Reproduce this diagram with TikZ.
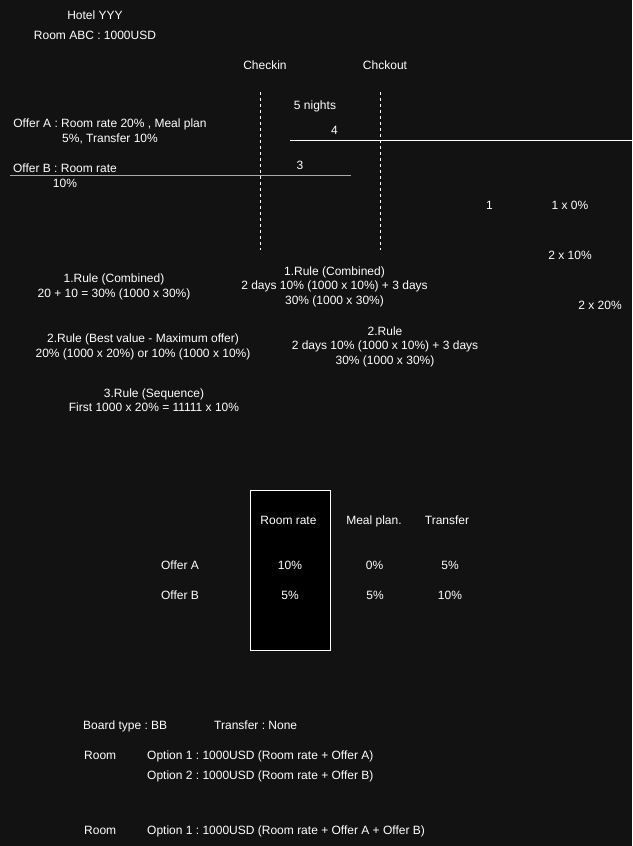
\documentclass[tikz,border=0pt]{standalone}
\usepackage{fontspec}
\setmainfont{Liberation Sans}
\usepackage{xcolor}
\usetikzlibrary{positioning}
\frenchspacing

\definecolor{bgdark}{RGB}{18,18,18}
\definecolor{linegray}{RGB}{170,170,170}

\begin{document}
\begin{tikzpicture}[x=1pt, y=-1pt,
    lbl/.style={text=white, font=\fontsize{12}{14.5}\selectfont, inner sep=0pt, anchor=base},
    lblc/.style={lbl, align=center},
    lbll/.style={lbl, anchor=base west},
    nightline/.style={white, line width=1pt, dash pattern=on 3pt off 3pt}]
  % Background
  \fill[bgdark] (0,0) rectangle (632,846);

  % Hotel and room
  \node[lbl] (hotel) at (95,19) {Hotel YYY};
  \node[lbl] (roomabc) at (95,39) {Room ABC : 1000USD};

  % Stay dates
  \node[lbl] (checkin) at (265,69) {Checkin};
  \node[lbl] (checkout) at (385,69) {Chckout};
  \node[lbl] (nights) at (315,109) {5 nights};

  % Offer periods
  \coordinate (offAstart) at (290,140);
  \coordinate (offAend) at (632,140);
  \coordinate (offBstart) at (10,175);
  \coordinate (offBend) at (351,175);
  \draw[white, line width=1pt] (offAstart) -- (offAend);
  \draw[linegray, line width=1pt] (offBstart) -- (offBend);
  \node[lbl] (nA) at (334.5,134) {4};
  \node[lbl] (nB) at (300,169) {3};
  % (base of a multi-line node = last line)
  \node[lblc] (offerA) at (110,142) {Offer A : Room rate 20\% , Meal plan\\5\%, Transfer 10\%};
  \node[lblc] (offerB) at (65,187) {Offer B : Room rate\\10\%};

  % Checkin / checkout markers
  \coordinate (ciTop) at (260.5,92);
  \coordinate (ciBot) at (260.5,250);
  \coordinate (coTop) at (380.5,92);
  \coordinate (coBot) at (380.5,250);
  \draw[nightline] (ciTop) -- (ciBot);
  \draw[nightline] (coTop) -- (coBot);

  % Nights after checkout
  \node[lbl] (one) at (489.5,209) {1};
  \node[lbl] (oneX) at (570,209) {1 x 0\%};
  \node[lbl] (twoX) at (570,259) {2 x 10\%};
  \node[lbl] (twoY) at (600,309) {2 x 20\%};

  % Rules
  \node[lblc] (ruleA) at (114,297.3) {1.Rule (Combined)\\20 + 10 = 30\% (1000 x 30\%)};
  \node[lblc] (ruleAstay) at (334.5,304) {1.Rule (Combined)\\2 days 10\% (1000 x 10\%) + 3 days\\30\% (1000 x 30\%)};
  \node[lblc] (ruleB) at (143,357.3) {2.Rule (Best value - Maximum offer)\\20\% (1000 x 20\%) or 10\% (1000 x 10\%)};
  \node[lblc] (ruleBstay) at (385,364) {2.Rule\\2 days 10\% (1000 x 10\%) + 3 days\\30\% (1000 x 30\%)};
  \node[lblc] (ruleC) at (154,411.7) {3.Rule (Sequence)\\First 1000 x 20\% = 11111 x 10\%};

  % Offer table
  \node[draw=white, fill=black, line width=1pt, minimum width=80, minimum height=160, inner sep=0pt] (rrcol) at (290.5,570.5) {};
  \node[lbl] (hRoom) at (288.5,524) {Room rate};
  \node[lbl] (hMeal) at (374,524) {Meal plan.};
  \node[lbl] (hTrans) at (447,524) {Transfer};
  \node[lbl] (rowA) at (180,569) {Offer A};
  \node[lbl] (aRoom) at (290,569) {10\%};
  \node[lbl] (aMeal) at (374.5,569) {0\%};
  \node[lbl] (aTrans) at (450,569) {5\%};
  \node[lbl] (rowB) at (180,599) {Offer B};
  \node[lbl] (bRoom) at (290,599) {5\%};
  \node[lbl] (bMeal) at (375,599) {5\%};
  \node[lbl] (bTrans) at (450,599) {10\%};

  % Booking options
  \node[lbll] (board) at (83,729) {Board type : BB};
  \node[lbll] (transfer) at (214,729) {Transfer : None};
  \node[lbll] (roomA) at (84,759) {Room};
  \node[lbll] (optA) at (147,759) {Option 1 : 1000USD (Room rate + Offer A)};
  \node[lbll] (optB) at (147,779) {Option 2 : 1000USD (Room rate + Offer B)};
  \node[lbll] (roomB) at (84,834) {Room};
  \node[lbll] (optAB) at (147,834) {Option 1 : 1000USD (Room rate + Offer A + Offer B)};
\end{tikzpicture}
\end{document}
